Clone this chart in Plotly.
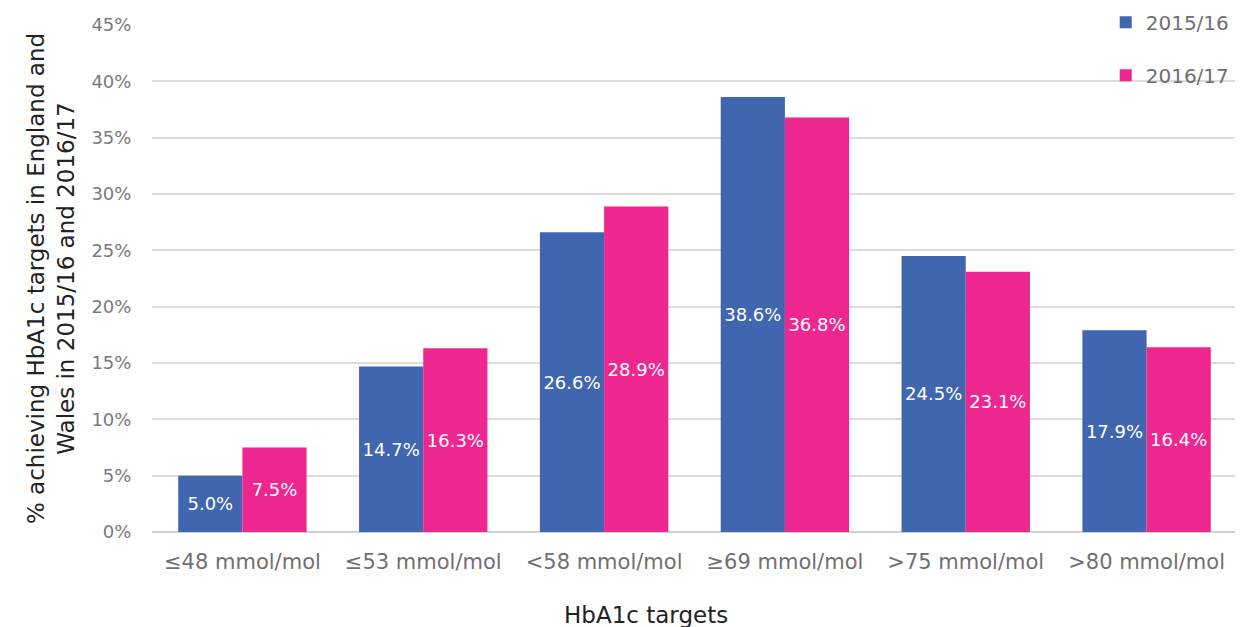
import plotly.graph_objects as go

categories = ["≤48 mmol/mol", "≤53 mmol/mol", "<58 mmol/mol", "≥69 mmol/mol", ">75 mmol/mol", ">80 mmol/mol"]
series_names = ["2015/16", "2016/17"]
values_2015 = [5.0, 14.7, 26.6, 38.6, 24.5, 17.9]
values_2016 = [7.5, 16.3, 28.9, 36.8, 23.1, 16.4]
y_ticks = [0, 5, 10, 15, 20, 25, 30, 35, 40, 45]

colors = ["#4066B0", "#EE2690"]
FONT = "DejaVu Sans, sans-serif"

fig = go.Figure()
for name, vals, col, grp in zip(series_names, [values_2015, values_2016], colors, ["a", "b"]):
    fig.add_trace(go.Bar(
        x=categories, y=vals, name=name, marker_color=col,
        marker_line_width=0,
        text=[f"{v:.1f}%" for v in vals],
        textposition="inside", insidetextanchor="middle", textangle=0,
        textfont=dict(color="white", size=18, family=FONT),
        legendgroup=grp,
    ))

fig.update_layout(
    barmode="group", bargap=0.29, bargroupgap=0,
    width=1243, height=627,
    margin=dict(l=144, r=14, t=17, b=103, autoexpand=False),
    plot_bgcolor="white", paper_bgcolor="white",
    font=dict(family=FONT, color="#7a7a7a"),
    uniformtext=dict(minsize=17, mode="show"),
    legend=dict(x=0.879, xanchor="left", y=1.044, yanchor="top",
                font=dict(size=20, color="#6f6f6f", family=FONT),
                tracegroupgap=24, bgcolor="rgba(0,0,0,0)", itemwidth=30),
    xaxis=dict(
        tickfont=dict(size=21, color="#707070"),
        showline=False, ticks="outside", ticklen=11, tickcolor="rgba(0,0,0,0)",
    ),
    yaxis=dict(
        range=[0, 45], tickvals=y_ticks, ticktext=[f"{t}%" for t in y_ticks],
        tickfont=dict(size=18, color="#7a7a7a"),
        showgrid=True, gridcolor="#dcdcdc", gridwidth=1.5,
        zeroline=True, zerolinecolor="#d0d0d0", zerolinewidth=2,
        title=dict(text="% achieving HbA1c targets in England and<br>Wales in 2015/16 and 2016/17",
                   font=dict(size=23, color="#222222"), standoff=10),
        ticks="outside", ticklen=16, tickcolor="rgba(0,0,0,0)",
    ),
    annotations=[dict(
        text="HbA1c targets", xref="paper", yref="paper", x=0.455, y=-0.164,
        xanchor="center", yanchor="middle", showarrow=False,
        font=dict(size=23, color="#222222", family=FONT),
    )],
)

fig.write_html("out.html")
